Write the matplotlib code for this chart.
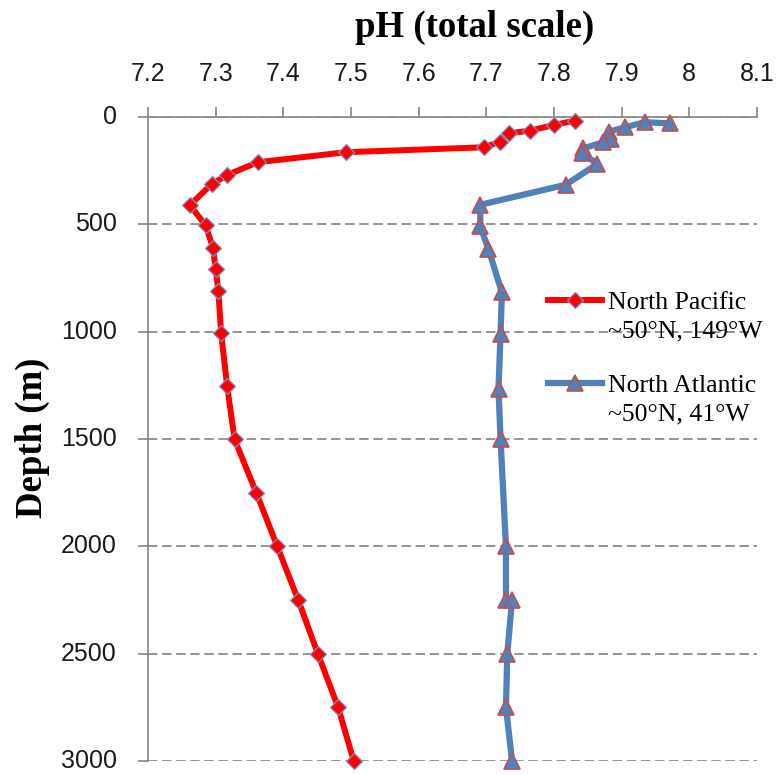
import matplotlib
matplotlib.use('Agg')
import matplotlib.pyplot as plt
from matplotlib.lines import Line2D

# pH profiles vs depth at ~50N
pacific_depth = [17, 37, 64, 76, 115, 141, 164, 211, 270, 313, 410, 505, 608, 708,
                 811, 1005, 1254, 1502, 1750, 2000, 2250, 2500, 2750, 3000]
pacific_ph = [7.831, 7.800, 7.764, 7.733, 7.720, 7.697, 7.493, 7.362, 7.317, 7.294,
              7.262, 7.285, 7.296, 7.300, 7.304, 7.308, 7.317, 7.328, 7.360, 7.391,
              7.422, 7.451, 7.481, 7.504]

atlantic_depth = [30, 24, 48, 68, 104, 118, 146, 168, 219, 316, 409, 510, 614, 817,
                  1009, 1267, 1502, 2000, 2250, 2250, 2500, 2750, 3000]
atlantic_ph = [7.972, 7.934, 7.905, 7.881, 7.884, 7.873, 7.843, 7.842, 7.864, 7.817,
               7.691, 7.691, 7.703, 7.723, 7.721, 7.718, 7.721, 7.729, 7.729, 7.738,
               7.731, 7.729, 7.738]

x_ticks = [7.2, 7.3, 7.4, 7.5, 7.6, 7.7, 7.8, 7.9, 8.0, 8.1]
x_tick_labels = ['7.2', '7.3', '7.4', '7.5', '7.6', '7.7', '7.8', '7.9', '8', '8.1']
y_ticks = [0, 500, 1000, 1500, 2000, 2500, 3000]

RED = '#FF0000'
BLUE = '#4F81BD'
AXIS_GRAY = '#868686'

fig = plt.figure(figsize=(7.81, 7.75), dpi=100)
ax = fig.add_axes([148 / 781, 1 - 761 / 775, (757 - 148) / 781, (761 - 117) / 775])

pac, = ax.plot(pacific_ph, pacific_depth, color=RED, linewidth=4.3,
               marker='D', markersize=7.8, markerfacecolor=RED,
               markeredgecolor='#7C8FC4', markeredgewidth=0.9,
               clip_on=False, zorder=3)
atl, = ax.plot(atlantic_ph, atlantic_depth, color=BLUE, linewidth=4.5,
               marker='^', markersize=11.5, markerfacecolor=BLUE,
               markeredgecolor='#C0504D', markeredgewidth=1.2,
               clip_on=False, zorder=3)

ax.set_xlim(7.2, 8.1)
ax.set_ylim(3000, 0)
ax.xaxis.tick_top()
ax.set_xticks(x_ticks)
ax.set_xticklabels(x_tick_labels)
ax.set_yticks(y_ticks)

ax.tick_params(axis='both', direction='out', length=7.5, width=1.2, color=AXIS_GRAY,
               labelsize=18, labelcolor='#1a1a1a')
for lbl in ax.get_xticklabels() + ax.get_yticklabels():
    lbl.set_family('Liberation Sans')
for lbl in ax.get_yticklabels():
    lbl.set_verticalalignment('center')
ax.tick_params(axis='x', pad=15)
ax.tick_params(axis='y', pad=15)

for side in ['bottom', 'right']:
    ax.spines[side].set_visible(False)
for side in ['top', 'left']:
    ax.spines[side].set_color(AXIS_GRAY)
    ax.spines[side].set_linewidth(1.2)

ax.yaxis.grid(True, linestyle=(0, (5.2, 2.6)), color='#8C8C8C', linewidth=1.3)
ax.set_axisbelow(True)

fig.text(475 / 781, 1 - 27 / 775, 'pH (total scale)', ha='center', va='center',
         fontsize=26.5, fontweight='bold', family='Liberation Serif')
fig.text(32 / 781, 1 - 438 / 775, 'Depth (m)', ha='center', va='center',
         rotation=90, fontsize=26.5, fontweight='bold', family='Liberation Serif')

# two separate legend blocks so the symbol sits on the first text line
blank = Line2D([], [], color='none')
leg_kw = dict(frameon=False, handlelength=2.1, handletextpad=0.23,
              labelspacing=0.2, borderaxespad=0, borderpad=0,
              prop={'family': 'Liberation Serif', 'size': 18.5})
leg1 = ax.legend([pac, blank], ['North Pacific', '~50°N, 149°W'],
                 loc='upper left', bbox_to_anchor=((548 - 148) / 609, 1 - (291 - 117) / 644),
                 **leg_kw)
ax.add_artist(leg1)
ax.legend([atl, blank], ['North Atlantic', '~50°N, 41°W'],
          loc='upper left', bbox_to_anchor=((548 - 148) / 609, 1 - (374 - 117) / 644),
          **leg_kw)

fig.savefig('out.png', dpi=100)
